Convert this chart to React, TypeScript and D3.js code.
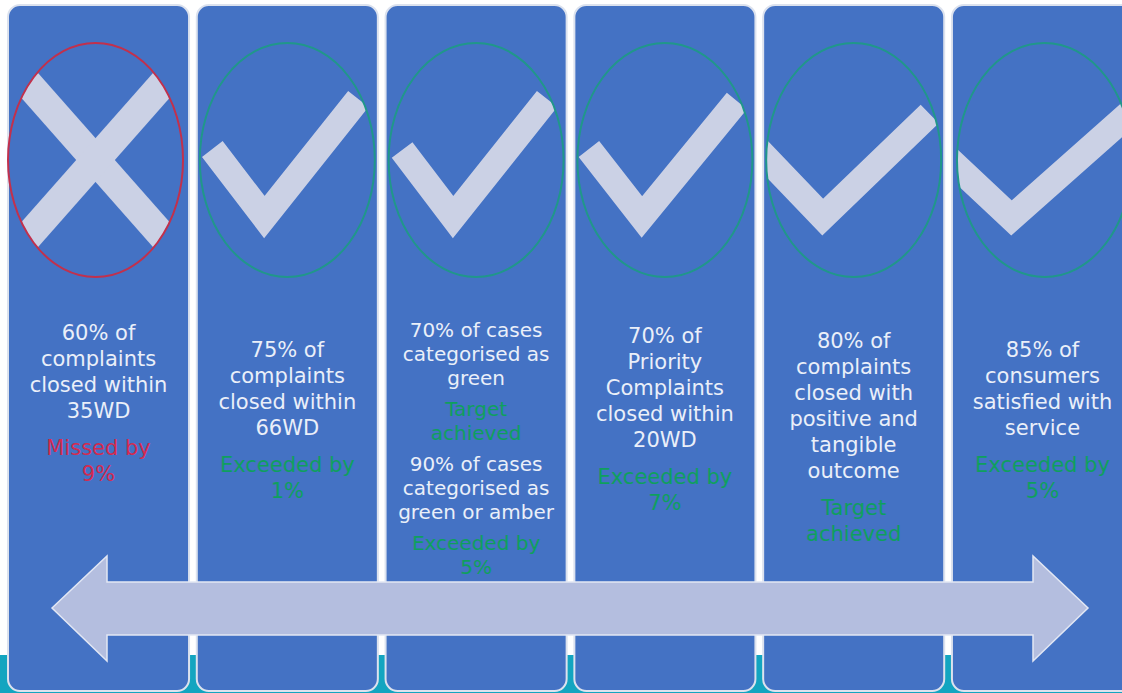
import React from "react";
import * as d3 from "d3";

// ---- data ----
const panels = ["p1", "p2", "p3", "p4", "p5", "p6"];
const iconKind = ["cross", "tick", "tick", "tick", "tick", "tick"];
const outcome = ["missed", "met", "met", "met", "met", "met"];
const targetLines: string[][][] = [
  [["60% of", "complaints", "closed within", "35WD"]],
  [["75% of", "complaints", "closed within", "66WD"]],
  [["70% of cases", "categorised as", "green"], ["90% of cases", "categorised as", "green or amber"]],
  [["70% of", "Priority", "Complaints", "closed within", "20WD"]],
  [["80% of", "complaints", "closed with", "positive and", "tangible", "outcome"]],
  [["85% of", "consumers", "satisfied with", "service"]],
];
const resultLines: string[][][] = [
  [["Missed by", "9%"]],
  [["Exceeded by", "1%"]],
  [["Target", "achieved"], ["Exceeded by", "5%"]],
  [["Exceeded by", "7%"]],
  [["Target", "achieved"]],
  [["Exceeded by", "5%"]],
];
// tick / cross outlines, relative to the icon centre
const tickShapes: number[][][] = [
  [],
  [[-75, -11], [-23, 57], [71, -61]],
  [[-74, -10], [-23, 57], [71, -61]],
  [[-76, -11], [-23, 57], [72, -59]],
  [[-100, -15], [-31, 57], [76, -46]],
  [[-100, -5], [-33, 58], [100, -60]],
];
const crossShape: number[][][] = [
  [[-90, -102], [90, 102]],
  [[90, -102], [-90, 102]],
];

// ---- layout ----
const W = 1122, H = 693;
const firstBaseline = [340, 357, 337, 343, 348, 357];
const lineGap = [26, 26, 24, 26, 26, 26];
const paraGap = [11, 11, 7, 11, 11, 11];
const fontSize = [21, 21, 20, 21, 21, 21];
const iconDx = [-3, 0, 0, 0, 0, 2];

const PANEL = "#4472c4";
const ICON = "#cbd1e5";
const TEXT = "#eaeff9";
const GREEN = "#0f9f5e";
const RED = "#d42a50";
const TEAL = "#13a5c0";

export default function App() {
  const x = d3.scaleBand<string>().domain(panels).range([8, 1133]).paddingInner(0.041);
  const line = d3.line<number[]>().x(d => d[0]).y(d => d[1]);
  const iconCy = 160, rx = 87.5, ry = 117;

  const arrow: [number, number][] = [
    [52, 608], [107, 556], [107, 582], [1033, 582], [1033, 556], [1088, 608],
    [1033, 661], [1033, 635], [107, 635], [107, 661],
  ];

  return (
    <svg width={W} height={H} style={{ position: "absolute", left: 0, top: 0, fontFamily: "'DejaVu Sans', Verdana, sans-serif" }}>
      <rect x={0} y={0} width={W} height={H} fill="#ffffff" />
      <rect x={0} y={655} width={W} height={H - 655} fill={TEAL} />
      <defs>
        {panels.map((p, i) => {
          const cx = (x(p) as number) + x.bandwidth() / 2 + iconDx[i];
          return (
            <clipPath id={`clip-${p}`} key={p}>
              <ellipse cx={cx} cy={iconCy} rx={rx} ry={ry} />
            </clipPath>
          );
        })}
      </defs>
      {panels.map((p, i) => {
        const x0 = x(p) as number;
        const bw = x.bandwidth();
        const cx = x0 + bw / 2;
        const icx = cx + iconDx[i];
        const missed = outcome[i] === "missed";
        const resColor = missed ? RED : GREEN;
        // build text lines
        const items: { t: string; y: number; c: string }[] = [];
        let y = firstBaseline[i];
        targetLines[i].forEach((seg, si) => {
          if (si > 0) y += paraGap[i];
          seg.forEach(t => { items.push({ t, y, c: TEXT }); y += lineGap[i]; });
          y += paraGap[i];
          resultLines[i][si].forEach(t => { items.push({ t, y, c: resColor }); y += lineGap[i]; });
        });
        const paths = iconKind[i] === "cross"
          ? crossShape.map(seg => seg.map(([a, b]) => [icx + a, iconCy + b]))
          : [tickShapes[i].map(([a, b]) => [icx + a, iconCy + b])];
        return (
          <g key={p}>
            <rect x={x0} y={5} width={bw} height={686} rx={12} ry={12} fill={PANEL} stroke="#dce2ee" strokeWidth={2} />
            <g clipPath={`url(#clip-${p})`}>
              {paths.map((pts, k) => (
                <path key={k} d={line(pts as any) as string} fill="none" stroke={ICON}
                  strokeWidth={iconKind[i] === "cross" ? 29 : 26} strokeLinejoin="miter" strokeMiterlimit={10} strokeLinecap="butt" />
              ))}
            </g>
            <ellipse cx={icx} cy={iconCy} rx={rx} ry={ry} fill="none"
              stroke={missed ? "#c2304c" : "#20978a"} strokeWidth={2} />
            {items.map((it, k) => (
              <text key={k} x={cx} y={it.y} textAnchor="middle" fontSize={fontSize[i]} fill={it.c}>{it.t}</text>
            ))}
          </g>
        );
      })}
      <polygon points={arrow.map(d => d.join(",")).join(" ")} fill="#b4bedf" stroke="#e2e7f4" strokeWidth={1.5} />
    </svg>
  );
}
